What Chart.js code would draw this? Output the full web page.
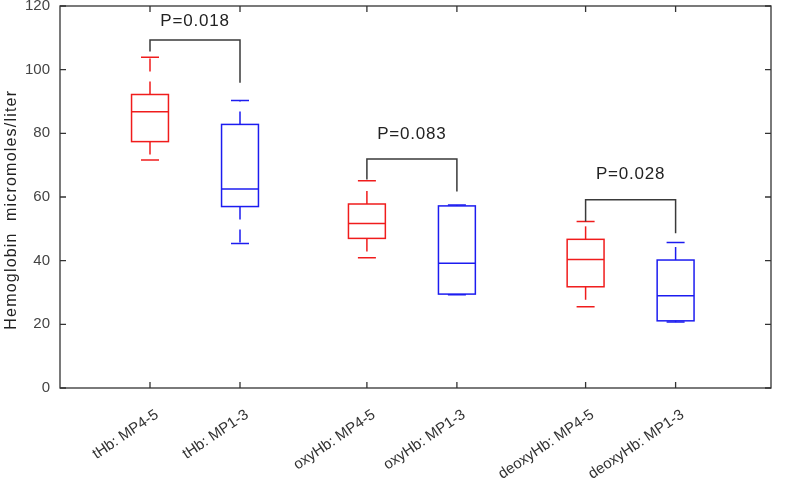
<!DOCTYPE html>
<html>
<head>
<meta charset="utf-8">
<script src="https://cdn.jsdelivr.net/npm/chart.js@4"></script>
<style>
  html, body { margin: 0; padding: 0; background: #fff; }
  #wrap { width: 787px; height: 479px; }
</style>
</head>
<body>
<div id="wrap"><canvas id="myChart"></canvas></div>
<script>
const categories = [
  'tHb: MP4-5',
  'tHb: MP1-3',
  'oxyHb: MP4-5',
  'oxyHb: MP1-3',
  'deoxyHb: MP4-5',
  'deoxyHb: MP1-3',
];
const positions = [1, 2, 3.41, 4.41, 5.84, 6.84];

const whiskerLow  = [71.6, 45.4, 40.9, 29.3, 25.5, 20.7];
const q1          = [77.4, 57.0, 47.0, 29.5, 31.8, 21.1];
const medians     = [86.8, 62.5, 51.7, 39.2, 40.4, 29.0];
const q3          = [92.2, 82.8, 57.8, 57.2, 46.7, 40.2];
const whiskerHigh = [103.9, 90.3, 65.1, 57.5, 52.3, 45.7];

const yTicks = [0, 20, 40, 60, 80, 100, 120];
const yTitle = 'Hemoglobin  micromoles/liter';

// significance brackets: pairs of boxes, bar height, leg ends, label
const pLabels = ['P=0.018', 'P=0.083', 'P=0.028'];
const bracketPairs = [[0, 1], [2, 3], [4, 5]];
const bracketTop = [109.3, 71.9, 59.1];
const bracketLeftEnd = [105.7, 65.5, 52.3];
const bracketRightEnd = [95.9, 61.7, 48.6];
const pLabelY = [115.2, 79.8, 67.2];

const FONT = '"Liberation Sans", Arial, sans-serif';
const boxColor = i => (i % 2 === 0 ? '#f01c1c' : '#1c1cf0');

const boxPlugin = {
  id: 'boxPlugin',
  afterDatasetsDraw(chart) {
    const ctx = chart.ctx;
    const xs = chart.scales.x, ys = chart.scales.y;
    const half = 0.205, capHalf = 0.1;
    ctx.save();
    ctx.lineWidth = 1.5;
    for (let i = 0; i < categories.length; i++) {
      const p = positions[i];
      const xl = xs.getPixelForValue(p - half), xr = xs.getPixelForValue(p + half);
      const xc = xs.getPixelForValue(p);
      const cl = xs.getPixelForValue(p - capHalf), cr = xs.getPixelForValue(p + capHalf);
      ctx.strokeStyle = boxColor(i);
      // box
      ctx.setLineDash([]);
      ctx.strokeRect(xl, ys.getPixelForValue(q3[i]), xr - xl,
        ys.getPixelForValue(q1[i]) - ys.getPixelForValue(q3[i]));
      // median
      ctx.beginPath();
      ctx.moveTo(xl, ys.getPixelForValue(medians[i]));
      ctx.lineTo(xr, ys.getPixelForValue(medians[i]));
      ctx.stroke();
      // caps
      ctx.beginPath();
      ctx.moveTo(cl, ys.getPixelForValue(whiskerHigh[i]));
      ctx.lineTo(cr, ys.getPixelForValue(whiskerHigh[i]));
      ctx.moveTo(cl, ys.getPixelForValue(whiskerLow[i]));
      ctx.lineTo(cr, ys.getPixelForValue(whiskerLow[i]));
      ctx.stroke();
      // dashed whiskers, drawn outward from the box
      ctx.setLineDash([13, 10]);
      ctx.beginPath();
      ctx.moveTo(xc, ys.getPixelForValue(q3[i]));
      ctx.lineTo(xc, ys.getPixelForValue(whiskerHigh[i]));
      ctx.stroke();
      ctx.beginPath();
      ctx.moveTo(xc, ys.getPixelForValue(q1[i]));
      ctx.lineTo(xc, ys.getPixelForValue(whiskerLow[i]));
      ctx.stroke();
    }
    ctx.setLineDash([]);

    // brackets
    ctx.strokeStyle = '#3a3a3a';
    ctx.fillStyle = '#222';
    ctx.font = '17px ' + FONT;
    ctx.letterSpacing = '0.8px';
    ctx.textAlign = 'center';
    ctx.textBaseline = 'middle';
    bracketPairs.forEach(([a, b], k) => {
      const xa = xs.getPixelForValue(positions[a]);
      const xb = xs.getPixelForValue(positions[b]);
      const yt = ys.getPixelForValue(bracketTop[k]);
      ctx.beginPath();
      ctx.moveTo(xa, ys.getPixelForValue(bracketLeftEnd[k]));
      ctx.lineTo(xa, yt);
      ctx.lineTo(xb, yt);
      ctx.lineTo(xb, ys.getPixelForValue(bracketRightEnd[k]));
      ctx.stroke();
      ctx.fillText(pLabels[k], (xa + xb) / 2, ys.getPixelForValue(pLabelY[k]));
    });

    // y axis title (spaced out like the original)
    ctx.save();
    ctx.translate(12, ys.getPixelForValue(56));
    ctx.rotate(-Math.PI / 2);
    ctx.font = '16px ' + FONT;
    ctx.letterSpacing = '1.2px';
    ctx.fillStyle = '#222';
    ctx.fillText(yTitle, 0, 0);
    ctx.restore();
    ctx.letterSpacing = '0px';

    // frame with inward ticks
    const area = chart.chartArea;
    ctx.strokeStyle = '#333';
    ctx.lineWidth = 1.3;
    ctx.strokeRect(area.left, area.top, area.right - area.left, area.bottom - area.top);
    ctx.beginPath();
    yTicks.forEach(v => {
      const y = ys.getPixelForValue(v);
      ctx.moveTo(area.left, y); ctx.lineTo(area.left + 6, y);
      ctx.moveTo(area.right, y); ctx.lineTo(area.right - 6, y);
    });
    positions.forEach(p => {
      const x = xs.getPixelForValue(p);
      ctx.moveTo(x, area.bottom); ctx.lineTo(x, area.bottom - 6);
      ctx.moveTo(x, area.top); ctx.lineTo(x, area.top + 6);
    });
    ctx.stroke();
    ctx.restore();
  }
};

const config = {
  type: 'scatter',
  data: {
    datasets: [{
      label: 'boxes',
      data: positions.map((p, i) => ({x: p, y: medians[i]})),
      pointRadius: 0,
      showLine: false,
    }]
  },
  options: {
    responsive: true,
    maintainAspectRatio: false,
    animation: false,
    layout: { padding: { top: 6, right: 16, left: 0, bottom: 0 } },
    plugins: {
      legend: { display: false },
      tooltip: { enabled: false }
    },
    scales: {
      x: {
        type: 'linear',
        min: 0,
        max: 7.9,
        grid: { display: false, drawTicks: false },
        border: { display: false },
        afterBuildTicks: axis => {
          axis.ticks = positions.map(v => ({value: v}));
        },
        afterFit: axis => {
          axis.height = 91;
          axis.paddingLeft = 0;
          axis.paddingRight = 0;
        },
        ticks: {
          autoSkip: false,
          minRotation: 34,
          maxRotation: 34,
          padding: 18,
          labelOffset: 7,
          color: '#333',
          font: { family: FONT, size: 15 },
          callback: (value) => {
            const i = positions.indexOf(value);
            return i >= 0 ? categories[i] : '';
          }
        }
      },
      y: {
        min: 0,
        max: 120,
        grid: { display: false, drawTicks: false },
        border: { display: false },
        afterBuildTicks: axis => {
          axis.ticks = yTicks.map(v => ({value: v}));
        },
        afterFit: axis => {
          axis.width = 60;
          axis.paddingTop = 0;
          axis.paddingBottom = 0;
        },
        ticks: {
          padding: 10,
          color: '#444',
          font: { family: FONT, size: 15 }
        }
      }
    }
  },
  plugins: [boxPlugin]
};

var myChart = new Chart(document.getElementById('myChart'), config);
</script>
</body>
</html>
